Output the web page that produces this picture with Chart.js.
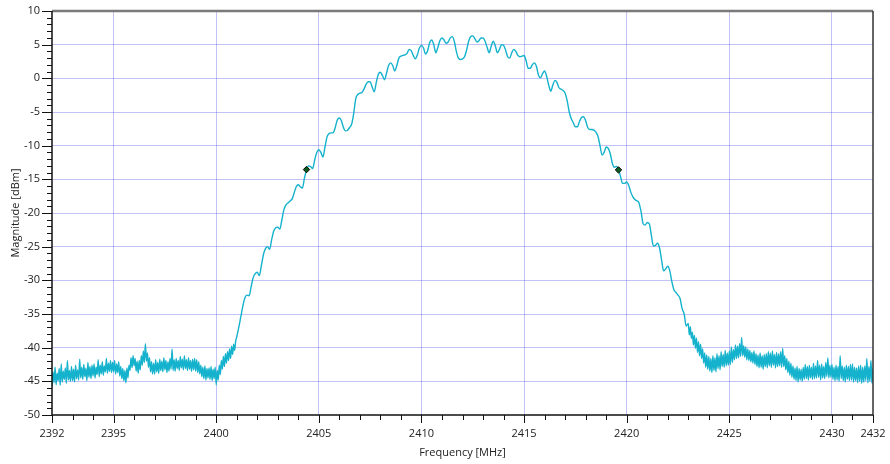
<!DOCTYPE html>
<html>
<head>
<meta charset="utf-8">
<script src="https://cdn.jsdelivr.net/npm/chart.js@4"></script>
<style>
  body { margin: 0; background: #fff; }
  canvas { display: block; }
</style>
</head>
<body>
<canvas id="myChart" width="890" height="464"></canvas>
<script>
'use strict';
// noise floor below the band, 2392.00 .. 2400.95 MHz, 0.05 MHz per sample, one row per MHz
const floorLowStart = 2392;
const floorLowStep = 0.05;
const floorLow = [
    -45.8, -43.6, -45.2, -42.9, -45.5, -43.8, -44.9, -43.1, -45.6, -42.4, -45.1, -43.5, -44.7, -43.0, -45.3, -41.9, -44.8, -43.4, -45.0, -42.8, // 2392
    -44.9, -43.2, -45.1, -42.6, -44.6, -43.3, -44.8, -41.7, -44.5, -42.9, -44.7, -42.5, -44.3, -43.1, -44.9, -42.2, -44.4, -42.8, -44.6, -42.6, // 2393
    -44.2, -42.4, -44.5, -42.9, -44.0, -41.8, -44.3, -42.6, -43.9, -42.1, -44.1, -42.7, -43.6, -41.6, -43.8, -42.3, -43.5, -41.9, -43.7, -42.2, // 2394
    -43.6, -41.9, -43.9, -42.4, -43.7, -42.1, -44.2, -42.8, -44.6, -43.1, -44.9, -43.4, -45.2, -43.0, -44.5, -42.6, -43.4, -41.5, -43.0, -41.2, // 2395
    -42.7, -41.6, -43.5, -42.0, -43.8, -41.9, -43.3, -41.2, -42.6, -40.5, -42.2, -39.4, -42.0, -40.8, -42.9, -41.5, -43.6, -42.1, -43.9, -42.3, // 2396
    -43.9, -41.8, -43.6, -42.2, -43.8, -41.7, -43.4, -42.0, -43.6, -41.5, -43.3, -41.9, -43.7, -42.1, -43.5, -41.6, -43.2, -40.2, -43.4, -41.8, // 2397
    -43.5, -41.6, -43.1, -41.9, -43.4, -41.3, -43.0, -41.7, -43.3, -41.2, -43.1, -41.8, -43.4, -41.5, -43.2, -41.9, -43.5, -41.7, -43.3, -41.6, // 2398
    -43.5, -41.8, -43.7, -42.1, -43.9, -42.6, -44.3, -42.9, -44.6, -42.7, -44.8, -43.1, -44.5, -43.0, -44.7, -42.8, -44.9, -43.2, -44.6, -42.9, // 2399
    -45.5, -43.4, -44.8, -42.6, -44.0, -41.9, -43.2, -41.3, -42.8, -40.9, -42.3, -40.6, -41.9, -40.2, -41.6, -39.8, -41.0, -39.5, -40.4, -39.0  // 2400
];
// main lobe, 2401.0 .. 2422.9 MHz, 0.1 MHz per sample, one row per MHz
const lobeStart = 2401;
const lobeStep = 0.1;
const lobe = [
    -38.4, -37.0, -35.4, -33.8, -32.6, -32.2, -32.3, -31.0, -29.6, -29.0, // 2401
    -28.8, -29.3, -27.8, -26.2, -25.3, -25.0, -25.4, -24.0, -22.7, -22.2, // 2402
    -22.1, -22.4, -21.0, -19.5, -18.8, -18.5, -18.2, -17.9, -17.0, -16.1, // 2403
    -15.8, -16.1, -16.3, -14.8, -13.6, -13.0, -13.1, -13.4, -12.1, -11.0, // 2404
    -10.6, -11.0, -11.7, -10.2, -8.7, -8.2, -8.1, -8.1, -7.3, -6.2,       // 2405
    -5.9, -6.3, -7.3, -7.8, -7.7, -7.3, -6.8, -5.2, -3.0, -2.4,           // 2406
    -2.2, -2.1, -1.6, -0.9, -0.5, -0.5, -1.3, -2.0, -0.6, 0.6,            // 2407
    0.9, 0.4, -0.2, 0.8, 1.9, 2.3, 1.9, 1.1, 1.9, 3.0,                    // 2408
    3.3, 3.4, 3.5, 3.7, 4.3, 4.1, 3.4, 2.9, 3.5, 4.5,                     // 2409
    4.9, 4.5, 3.6, 4.1, 5.3, 5.7, 5.0, 3.8, 4.6, 5.6,                     // 2410
    6.0, 5.7, 5.2, 5.4, 6.0, 6.2, 5.5, 4.0, 3.0, 2.8,                     // 2411
    2.9, 3.2, 4.2, 5.5, 6.2, 6.3, 5.9, 5.4, 5.6, 6.0,                     // 2412
    6.0, 5.5, 4.6, 3.8, 4.8, 5.5, 4.8, 3.8, 4.3, 5.0,                     // 2413
    4.9, 4.2, 3.2, 3.0, 3.8, 4.3, 4.0, 3.4, 3.2, 3.3,                     // 2414
    3.4, 2.6, 1.5, 1.5, 2.0, 2.3, 1.8, 0.5, 0.1, 0.7,                     // 2415
    1.1, 0.3, -1.0, -1.9, -1.0, -0.3, -0.6, -1.4, -1.6, -1.8,             // 2416
    -2.2, -3.3, -5.0, -6.0, -6.6, -7.2, -7.2, -6.4, -5.8, -5.7,           // 2417
    -6.3, -7.3, -7.6, -7.6, -7.7, -8.0, -8.6, -10.0, -11.4, -11.0,        // 2418
    -10.2, -10.4, -11.2, -12.6, -13.2, -13.1, -13.5, -14.6, -15.6, -15.6, // 2419
    -15.4, -15.9, -16.9, -17.6, -18.0, -18.2, -18.5, -19.8, -21.6, -21.8, // 2420
    -21.4, -21.6, -23.3, -24.9, -24.8, -24.5, -25.2, -27.0, -28.6, -28.3, // 2421
    -27.9, -28.6, -30.2, -31.4, -31.8, -32.2, -32.7, -34.2, -35.0, -36.8  // 2422
];
// noise floor above the band, 2423.00 .. 2432.00 MHz, 0.05 MHz per sample
const floorHighStart = 2423;
const floorHighStep = 0.05;
const floorHigh = [
    -36.4, -38.1, -36.9, -38.6, -37.7, -39.6, -38.2, -40.1, -38.6, -40.7, -39.1, -41.2, -39.5, -41.6, -40.2, -42.3, -40.8, -42.9, -41.1, -43.2, // 2423
    -41.3, -43.5, -41.6, -43.7, -41.2, -43.4, -41.5, -43.6, -40.9, -43.1, -41.2, -43.3, -40.6, -42.8, -41.0, -42.9, -40.4, -42.7, -40.8, -42.6, // 2424
    -40.5, -42.5, -39.9, -42.2, -40.3, -41.8, -39.6, -41.6, -39.8, -41.5, -39.4, -41.3, -38.5, -41.2, -39.7, -41.4, -39.9, -41.8, -40.2, -41.9, // 2425
    -40.4, -42.1, -40.7, -42.3, -40.5, -42.5, -40.9, -42.8, -41.1, -43.0, -40.8, -42.9, -41.2, -43.2, -41.0, -42.8, -40.9, -43.0, -40.6, -42.7, // 2426
    -40.8, -42.9, -40.5, -42.6, -41.0, -43.0, -40.7, -42.8, -40.9, -42.7, -40.6, -42.9, -40.1, -42.8, -41.2, -43.3, -41.6, -43.7, -42.0, -44.1, // 2427
    -42.3, -44.4, -42.7, -44.7, -43.0, -44.9, -42.8, -45.1, -43.1, -44.8, -43.2, -45.0, -42.9, -44.7, -42.5, -44.6, -42.8, -44.8, -42.6, -44.5, // 2428
    -42.9, -44.7, -42.3, -44.6, -42.7, -44.5, -41.9, -44.4, -42.6, -44.8, -42.4, -44.5, -42.8, -44.6, -42.2, -44.3, -41.5, -44.5, -42.6, -44.4, // 2429
    -42.5, -44.7, -42.9, -44.9, -42.6, -44.8, -42.8, -45.0, -41.2, -44.6, -42.7, -44.9, -42.9, -45.1, -42.6, -44.7, -42.8, -44.9, -42.5, -44.8, // 2430
    -42.4, -45.1, -42.9, -44.9, -43.0, -45.2, -42.7, -45.0, -42.6, -45.3, -42.9, -45.1, -42.7, -44.9, -41.6, -45.2, -42.8, -45.0, -41.9, -45.3, // 2431
    -43.1                                                                                                                                         // 2432
];
// the two markers
const markerFreq = [2404.4, 2419.6];
const markerMag = [-13.55, -13.6];
// tick labels
const xTicks = [2392, 2395, 2400, 2405, 2410, 2415, 2420, 2425, 2430, 2432];
const yTicks = [-50, -45, -40, -35, -30, -25, -20, -15, -10, -5, 0, 5, 10];

const xMin = 2392, xMax = 2432, yMin = -50, yMax = 10;

let spectrum = [];
function addSegment(start, step, values) {
    for (let i = 0; i < values.length; i++) {
        spectrum.push({ x: +(start + i * step).toFixed(2), y: values[i] });
    }
}
addSegment(floorLowStart, floorLowStep, floorLow);
addSegment(lobeStart, lobeStep, lobe);
addSegment(floorHighStart, floorHighStep, floorHigh);

let markers = [];
for (let i = 0; i < markerFreq.length; i++) {
    markers.push({ x: markerFreq[i], y: markerMag[i] });
}

// black tick marks (major + minor) and the frame
const frame = {
    id: 'frame',
    afterDraw(chart) {
        const c = chart.ctx;
        const a = chart.chartArea;
        const xs = chart.scales.x;
        const ys = chart.scales.y;
        c.save();
        c.strokeStyle = '#111';
        c.lineWidth = 1;
        for (let v = yMin; v <= yMax; v++) {
            const py = Math.round(ys.getPixelForValue(v)) + 0.5;
            const len = (v % 5 === 0) ? 10 : 5;
            c.beginPath();
            c.moveTo(a.left - len, py);
            c.lineTo(a.left, py);
            c.stroke();
        }
        for (let v = xMin; v <= xMax; v++) {
            const px = Math.round(xs.getPixelForValue(v)) + 0.5;
            const len = xTicks.includes(v) ? 8 : 5;
            c.beginPath();
            c.moveTo(px, a.bottom);
            c.lineTo(px, a.bottom + len);
            c.stroke();
        }
        // top border
        c.strokeStyle = '#7a7a7a';
        c.lineWidth = 2.5;
        c.beginPath();
        c.moveTo(a.left, a.top);
        c.lineTo(a.right, a.top);
        c.stroke();
        // right border
        c.strokeStyle = '#333';
        c.lineWidth = 1.5;
        c.beginPath();
        c.moveTo(a.right, a.top);
        c.lineTo(a.right, a.bottom);
        c.stroke();
        // left + bottom axis
        c.strokeStyle = '#111';
        c.lineWidth = 1.5;
        c.beginPath();
        c.moveTo(a.left, a.top);
        c.lineTo(a.left, a.bottom);
        c.lineTo(a.right, a.bottom);
        c.stroke();
        c.restore();
    }
};

const font = { family: "'Open Sans', 'DejaVu Sans', sans-serif", size: 11 };

let chartObject = {
    type: 'line',
    data: {
        datasets: [{
            label: 'markers',
            data: markers,
            showLine: false,
            pointStyle: 'rectRot',
            pointRadius: 3.2,
            pointBackgroundColor: '#0b5d1e',
            pointBorderColor: '#000',
            pointBorderWidth: 1,
            order: 0
        }, {
            label: 'spectrum',
            data: spectrum,
            borderColor: '#14b2cc',
            borderWidth: 1.4,
            pointRadius: 0,
            cubicInterpolationMode: 'monotone',
            order: 1
        }]
    },
    options: {
        responsive: false,
        animation: false,
        devicePixelRatio: 1,
        layout: { padding: { left: 0, right: 17, top: 11, bottom: 0 } },
        plugins: {
            legend: { display: false },
            tooltip: { enabled: false }
        },
        scales: {
            x: {
                type: 'linear',
                min: xMin,
                max: xMax,
                afterBuildTicks: (s) => { s.ticks = xTicks.map(v => ({ value: v })); },
                afterFit: (s) => {
                    s.height = 49;
                    s.paddingLeft = 0;
                    s.paddingRight = 0;
                },
                border: { display: false },
                grid: {
                    drawTicks: false,
                    color: (ctx) => (ctx.tick && (ctx.tick.value === xMin || ctx.tick.value === xMax)) ? 'rgba(0,0,0,0)' : 'rgba(95, 95, 225, 0.38)',
                    lineWidth: 1
                },
                ticks: {
                    autoSkip: false,
                    maxRotation: 0,
                    padding: 12,
                    color: '#222',
                    font: font,
                    callback: (v) => String(v)
                },
                title: {
                    display: true,
                    text: 'Frequency [MHz]',
                    color: '#222',
                    font: font,
                    padding: { top: 0, bottom: 5 }
                }
            },
            y: {
                type: 'linear',
                min: yMin,
                max: yMax,
                afterBuildTicks: (s) => { s.ticks = yTicks.map(v => ({ value: v })); },
                afterFit: (s) => {
                    s.width = 52;
                    s.paddingTop = 0;
                    s.paddingBottom = 0;
                },
                border: { display: false },
                grid: {
                    drawTicks: false,
                    color: (ctx) => (ctx.tick && (ctx.tick.value === yMin || ctx.tick.value === yMax)) ? 'rgba(0,0,0,0)' : 'rgba(95, 95, 225, 0.38)',
                    lineWidth: 1
                },
                ticks: {
                    padding: 12,
                    color: '#222',
                    font: font,
                    callback: (v) => String(v)
                },
                title: {
                    display: true,
                    text: 'Magnitude [dBm]',
                    color: '#222',
                    font: font,
                    padding: { top: 9, bottom: 0 }
                }
            }
        }
    },
    plugins: [frame]
};

let chart = new Chart(document.getElementById('myChart').getContext('2d'), chartObject);
</script>
</body>
</html>
